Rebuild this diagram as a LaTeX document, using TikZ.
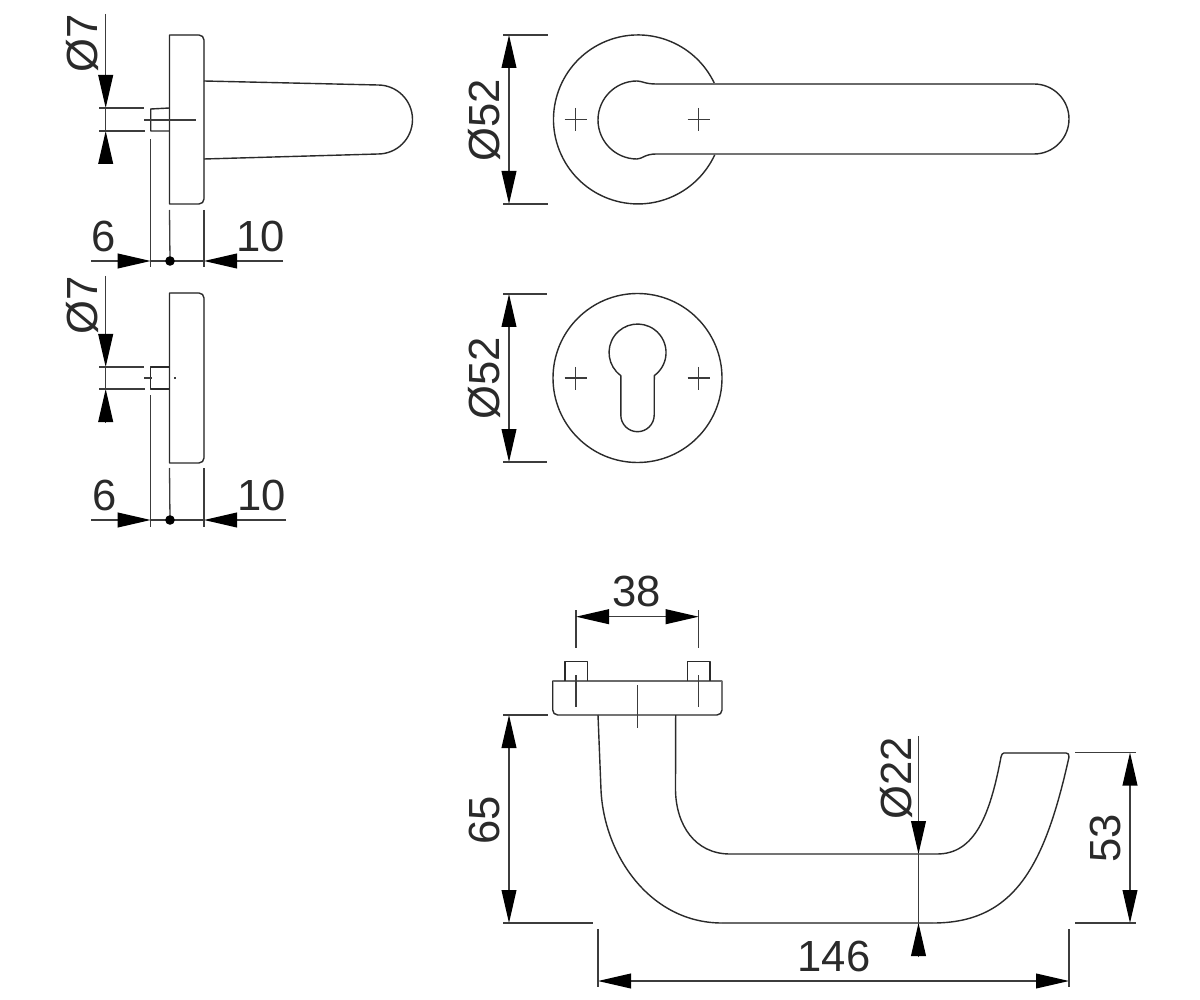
\documentclass[tikz,border=0pt]{standalone}
\usepackage{fontspec}
\setmainfont{Liberation Sans}
\usetikzlibrary{arrows.meta}
\definecolor{ink}{HTML}{2A2A2A}
\definecolor{dimgray}{HTML}{3C3C3C}
\definecolor{heavygray}{HTML}{6A6A6A}
\tikzset{
  part/.style={draw=ink,line width=0.7pt,line join=round},
  heavy/.style={draw=heavygray,line width=1.1pt},
  thin line/.style={draw=dimgray,line width=0.65pt},
  dim/.style={draw=dimgray,line width=0.65pt},
  ends/.style={dim,{Triangle[length=16.5pt,width=7.4pt,color=black]}-{Triangle[length=16.5pt,width=7.4pt,color=black]}},
  tipend/.style={dim,-{Triangle[length=16.5pt,width=7.4pt,color=black]}},
  label/.style={font=\fontsize{21.8}{24}\selectfont,text=ink,inner sep=0pt,anchor=center},
  vlabel/.style={label,rotate=90},
  pivot/.style={circle,fill=black,inner sep=0pt,minimum size=4.8pt}
}
\begin{document}
\begin{tikzpicture}[x=0.5pt,y=0.5pt]
\useasboundingbox[fill=white] (0,0) rectangle (1200,-1000);

% ---------- side view with lever
\draw[part] (169.5,-35) -- (199,-35) arc (90:0:5) -- (204,-199) arc (0:-90:5) -- (169.5,-204) -- cycle;
\draw[heavy] (171,-35) -- (198,-35) (204,-41) -- (204,-198);
\draw[part] (204,-81) -- (378,-85) arc (90:-90:34.5) -- (204,-159);
\draw[part] (169.5,-108) -- (150.7,-109) -- (150.7,-131) -- (169.5,-131);
\draw[thin line] (144,-120) -- (195.6,-120);
\coordinate (a7t) at (105.7,-14); \coordinate (a7a) at (105.7,-108);
\coordinate (a7b) at (105.7,-131); \coordinate (a7c) at (105.7,-163);
\draw[tipend] (a7t) -- (a7a);
\draw[dim] (a7a) -- (a7b);
\draw[tipend] (a7c) -- (a7b);
\draw[dim] (99,-108) -- (144,-108);
\draw[dim] (99,-131) -- (145,-131);
\node[vlabel] (d7a) at (82,-43) {Ø7};
\coordinate (s6a) at (150.7,-261); \coordinate (p1) at (170,-261); \coordinate (s10a) at (204,-261);
\coordinate (l1) at (91,-261); \coordinate (r1) at (283,-261);
\draw[dim] (150.7,-139) -- (150.7,-267);
\draw[dim] (169.5,-210) -- (p1);
\draw[dim] (204,-210) -- (204,-267);
\draw[tipend] (l1) -- (s6a);
\draw[tipend] (r1) -- (s10a);
\draw[dim] (s6a) -- (s10a);
\node[pivot] (dot1) at (p1) {};
\node[label] (d6a) at (104,-236) {6};
\node[label] (d10a) at (261,-236) {10};

% ---------- side view of escutcheon
\draw[part] (169.5,-293) -- (199,-293) arc (90:0:5) -- (204,-458) arc (0:-90:5) -- (169.5,-463) -- cycle;
\draw[heavy] (171,-293) -- (198,-293) (204,-299) -- (204,-457);
\draw[part] (169.5,-367) -- (150.7,-367) -- (150.7,-389) -- (169.5,-389);
\draw[thin line] (144,-378) -- (152,-378);
\draw[thin line] (174,-378) -- (176,-378);
\coordinate (b7t) at (105.7,-276); \coordinate (b7a) at (105.7,-367);
\coordinate (b7b) at (105.7,-389); \coordinate (b7c) at (105.7,-422);
\draw[tipend] (b7t) -- (b7a);
\draw[dim] (b7a) -- (b7b);
\draw[tipend] (b7c) -- (b7b);
\draw[dim] (99,-367) -- (144,-367);
\draw[dim] (99,-389) -- (145,-389);
\node[vlabel] (d7b) at (82,-305) {Ø7};
\coordinate (s6b) at (150.7,-520); \coordinate (p2) at (170,-520); \coordinate (s10b) at (204,-520);
\coordinate (l2) at (91,-520); \coordinate (r2) at (286,-520);
\draw[dim] (150.7,-395) -- (150.7,-527);
\draw[dim] (169.5,-468) -- (p2);
\draw[dim] (204,-468) -- (204,-527);
\draw[tipend] (l2) -- (s6b);
\draw[tipend] (r2) -- (s10b);
\draw[dim] (s6b) -- (s10b);
\node[pivot] (dot2) at (p2) {};
\node[label] (d6b) at (105,-495) {6};
\node[label] (d10b) at (262,-495) {10};

% ---------- front view with lever
\draw[part] (714.7,-84) arc (24.8:335.2:84.5);
\draw[part] (637,-81) .. controls (642,-81) and (645,-84) .. (656,-84) -- (1034,-84)
  arc (90:-90:35) -- (656,-154) .. controls (645,-154) and (642,-159) .. (637,-159)
  arc (270:90:39);
\draw[heavy] (656,-84.3) -- (1034,-84.3);
\draw[thin line] (564.5,-119.5) -- (587,-119.5) (575.7,-108) -- (575.7,-131);
\draw[thin line] (687.5,-119.5) -- (710,-119.5) (698.7,-108) -- (698.7,-131);
\coordinate (f1) at (509,-35); \coordinate (f2) at (509,-204);
\draw[ends] (f1) -- (f2);
\draw[dim] (503,-35) -- (548,-35);
\draw[dim] (503,-204) -- (548,-204);
\node[vlabel] (d52a) at (484,-120) {Ø52};

% ---------- front view of escutcheon
\draw[part] (637.5,-378) circle (84.5);
\draw[part] (620.8,-375.6) arc (234:-54:28.5) -- (654.2,-415) arc (0:-180:16.7) -- cycle;
\draw[thin line] (564.5,-378) -- (587,-378) (575.7,-367) -- (575.7,-390);
\draw[thin line] (687.5,-378) -- (710,-378) (698.7,-367) -- (698.7,-390);
\coordinate (g1) at (509,-294); \coordinate (g2) at (509,-462);
\draw[ends] (g1) -- (g2);
\draw[dim] (503,-294) -- (547,-294);
\draw[dim] (503,-462) -- (547,-462);
\node[vlabel] (d52b) at (484,-378) {Ø52};

% ---------- top view
\draw[part] (552.7,-681) -- (552.7,-710) arc (180:270:5) -- (717,-715) arc (270:360:5) -- (722,-681) -- cycle;
\draw[heavy] (552.7,-681) -- (722,-681);
\draw[part] (565,-681) -- (565,-661.7) -- (587.3,-661.7) -- (587.3,-681);
\draw[part] (687.3,-681) -- (687.3,-661.7) -- (710,-661.7) -- (710,-681);
\draw[thin line] (576,-675) -- (576,-706.7);
\draw[thin line] (698.7,-675) -- (698.7,-706.7);
\draw[thin line] (637.3,-685) -- (637.3,-728);
\coordinate (h1) at (576,-616.7); \coordinate (h2) at (698.7,-616.7);
\draw[dim] (576,-610) -- (576,-648);
\draw[dim] (698.7,-610) -- (698.7,-648);
\draw[ends] (h1) -- (h2);
\node[label] (d38) at (637,-591) {38};

\draw[part] (598,-715) -- (601,-790) .. controls (604,-855) and (650,-923) .. (722,-923)
  -- (933,-923) .. controls (1015,-923) and (1045,-865) .. (1069,-757)
  .. controls (1069.5,-754.5) and (1068,-753) .. (1066,-753)
  -- (1004,-753) .. controls (1002.5,-753) and (1001.5,-754.5) .. (1001,-757)
  .. controls (990,-815) and (975,-854) .. (937,-854)
  -- (730,-854) .. controls (695,-854) and (676,-825) .. (675.5,-790) -- (675.7,-715);
\draw[heavy] (722,-923) -- (933,-923) (1004,-753) -- (1066,-753);

% 65
\coordinate (i1) at (509,-715); \coordinate (i2) at (509,-923);
\draw[ends] (i1) -- (i2);
\draw[dim] (503,-715) -- (548,-715);
\draw[dim] (503,-923) -- (593,-923);
\node[vlabel] (d65) at (484,-820) {65};
% 53
\coordinate (j1) at (1130,-752.5); \coordinate (j2) at (1130,-923);
\draw[ends] (j1) -- (j2);
\draw[dim] (1075,-752.5) -- (1136,-752.5);
\draw[dim] (1075,-923) -- (1136,-923);
\node[vlabel] (d53) at (1105,-838) {53};
% 22
\coordinate (k0) at (918.5,-736); \coordinate (k1) at (918.5,-854);
\coordinate (k2) at (918.5,-923); \coordinate (k3) at (918.5,-957);
\draw[tipend] (k0) -- (k1);
\draw[dim] (k1) -- (k2);
\draw[tipend] (k3) -- (k2);
\node[vlabel] (d22) at (896,-778) {Ø22};
% 146
\coordinate (m1) at (598,-981); \coordinate (m2) at (1069,-981);
\draw[ends] (m1) -- (m2);
\draw[dim] (598,-929) -- (598,-987);
\draw[dim] (1069,-929) -- (1069,-987);
\node[label] (d146) at (834,-956) {146};
\end{tikzpicture}
\end{document}
